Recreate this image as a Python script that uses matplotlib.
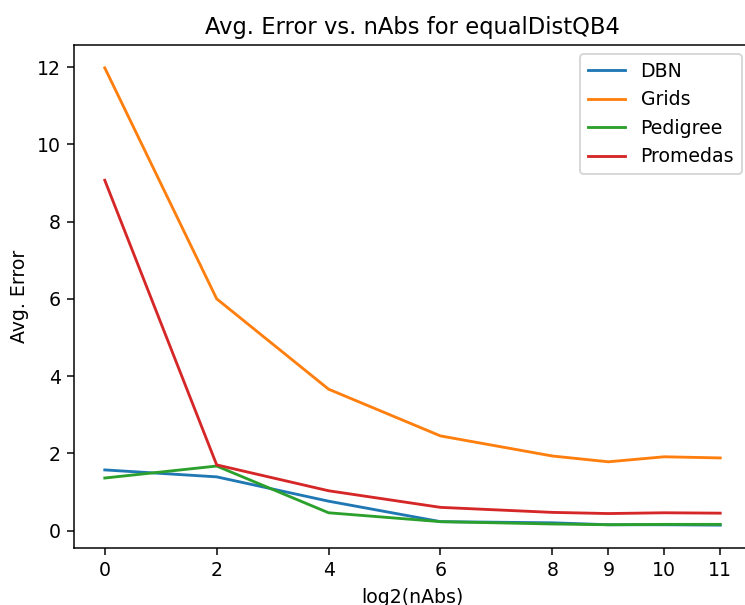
import matplotlib
matplotlib.use('Agg')
import matplotlib.pyplot as plt

# log2(nAbs) en el eje X
x_vals = [0, 2, 4, 6, 8, 9, 10, 11]

dbn      = [1.57, 1.39, 0.76, 0.23, 0.20, 0.15, 0.15, 0.14]
grids    = [11.98, 6.00, 3.66, 2.45, 1.93, 1.78, 1.91, 1.88]
pedigree = [1.36, 1.67, 0.46, 0.23, 0.17, 0.15, 0.16, 0.16]
promedas = [9.07, 1.70, 1.03, 0.60, 0.47, 0.44, 0.46, 0.45]

series = [('DBN', dbn), ('Grids', grids), ('Pedigree', pedigree), ('Promedas', promedas)]

DPI = 136  # la captura original esta ampliada ~1.36x
fig = plt.figure(figsize=(745 / DPI, 605 / DPI), dpi=DPI)
# el eje derecho queda un poco fuera del recorte original
ax = fig.add_axes([74 / 745, 57 / 605, (751 - 74) / 745, (548 - 45) / 605])

for nombre, vals in series:
    ax.plot(x_vals, vals, label=nombre)

ax.set_xticks(x_vals)
ax.set_title('Avg. Error vs. nAbs for equalDistQB4')
ax.set_xlabel('log2(nAbs)')
ax.set_ylabel('Avg. Error')
ax.legend(loc='upper right')

fig.savefig('out.png', dpi=DPI)
